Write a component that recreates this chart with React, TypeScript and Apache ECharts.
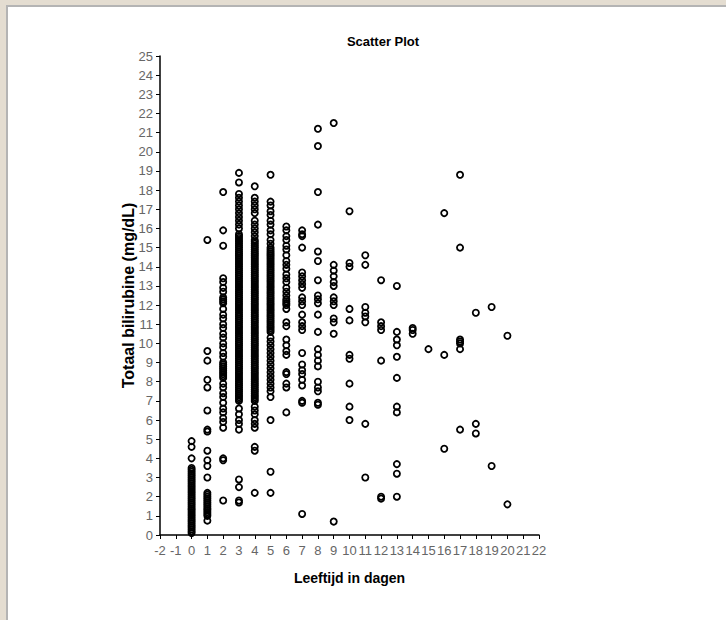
import React, { useEffect, useRef } from "react";
import * as echarts from "echarts";

// Leeftijd in dagen (x) -> Totaal bilirubine mg/dL (y), one array per day
const day0 = [4.9, 4.6, 4.0, 3.5, 3.4, 3.3, 3.2, 3.1, 3.0, 2.9, 2.8, 2.7, 2.6, 2.5, 2.4, 2.3, 2.2, 2.1, 2.0, 1.9, 1.8, 1.7, 1.6, 1.5, 1.4, 1.3, 1.2, 1.1, 1.0, 0.9, 0.8, 0.7, 0.6, 0.5, 0.4, 0.3, 0.2, 0.1];
const day1 = [15.4, 9.6, 9.1, 8.1, 7.7, 6.5, 5.5, 5.4, 4.4, 3.9, 3.6, 3.0, 2.2, 2.1, 2.0, 1.9, 1.8, 1.7, 1.6, 1.5, 1.4, 1.3, 1.2, 1.1, 1.0, 0.75];
const day2 = [17.9, 15.9, 15.1, 13.4, 13.2, 12.9, 12.7, 12.4, 12.3, 12.2, 12.1, 11.8, 11.5, 11.3, 11.0, 10.8, 10.5, 10.3, 10.0, 9.8, 9.5, 9.3, 9.0, 8.9, 8.8, 8.7, 8.6, 8.5, 8.4, 8.3, 8.2, 7.9, 7.7, 7.4, 7.2, 6.9, 6.6, 6.4, 6.1, 5.9, 5.6, 4.0, 3.9, 1.8];
const day3 = [18.9, 18.4, 17.8, 17.6, 17.4, 17.2, 17.0, 16.8, 16.6, 16.4, 16.2, 16.0,
  15.7, 15.6, 15.5, 15.4, 15.3, 15.2, 15.1, 15.0, 14.9, 14.8, 14.7, 14.6, 14.5, 14.4, 14.3, 14.2, 14.1, 14.0,
  13.9, 13.8, 13.7, 13.6, 13.5, 13.4, 13.3, 13.2, 13.1, 13.0, 12.9, 12.8, 12.7, 12.6, 12.5, 12.4, 12.3, 12.2, 12.1, 12.0,
  11.9, 11.8, 11.7, 11.6, 11.5, 11.4, 11.3, 11.2, 11.1, 11.0, 10.9, 10.8, 10.7, 10.6, 10.5, 10.4, 10.3, 10.2, 10.1, 10.0,
  9.9, 9.8, 9.7, 9.6, 9.5, 9.4, 9.3, 9.2, 9.1, 9.0, 8.9, 8.8, 8.7, 8.6, 8.5, 8.4, 8.3, 8.2, 8.1, 8.0,
  7.9, 7.8, 7.7, 7.6, 7.5, 7.4, 7.3, 7.2, 7.1, 7.0,
  6.6, 6.3, 6.0, 5.8, 5.5, 2.9, 2.5, 1.8, 1.7];
const day4 = [18.2, 17.6, 17.4, 17.2, 17.0, 16.8, 16.4, 16.2, 16.0, 15.8, 15.6,
  15.4, 15.3, 15.2, 15.1, 15.0, 14.9, 14.8, 14.7, 14.6, 14.5, 14.4, 14.3, 14.2, 14.1, 14.0,
  13.9, 13.8, 13.7, 13.6, 13.5, 13.4, 13.3, 13.2, 13.1, 13.0, 12.9, 12.8, 12.7, 12.6, 12.5, 12.4, 12.3, 12.2, 12.1, 12.0,
  11.9, 11.8, 11.7, 11.6, 11.5, 11.4, 11.3, 11.2, 11.1, 11.0, 10.9, 10.8, 10.7, 10.6, 10.5, 10.4, 10.3, 10.2, 10.1, 10.0,
  9.9, 9.8, 9.7, 9.6, 9.5, 9.4, 9.3, 9.2, 9.1, 9.0, 8.9, 8.8, 8.7, 8.6, 8.5, 8.4, 8.3, 8.2, 8.1, 8.0,
  7.9, 7.8, 7.7, 7.6, 7.5, 7.4, 7.3, 7.2, 7.1, 7.0,
  6.7, 6.5, 6.3, 6.0, 5.8, 5.6, 4.6, 4.4, 2.2];
const day5 = [18.8, 17.4, 17.2, 16.9, 16.7, 16.4, 16.2, 15.9, 15.7, 15.4, 15.2,
  15.0, 14.9, 14.8, 14.7, 14.6, 14.5, 14.4, 14.3, 14.2, 14.1, 14.0, 13.9, 13.8, 13.7, 13.6, 13.5, 13.4, 13.3, 13.2, 13.1, 13.0,
  12.9, 12.8, 12.7, 12.6, 12.5, 12.4, 12.3, 12.2, 12.1, 12.0, 11.9, 11.8, 11.7, 11.6, 11.5, 11.4, 11.3, 11.2, 11.1, 11.0, 10.9, 10.8, 10.7, 10.6,
  10.3, 10.1, 9.9, 9.7, 9.5, 9.3, 9.1, 8.9, 8.7, 8.5, 8.3, 8.1, 7.9, 7.7, 7.5, 7.2, 6.0, 3.3, 2.2];
const day6 = [16.1, 15.9, 15.6, 15.4, 15.1, 14.9, 14.6, 14.3, 14.1, 13.9, 13.6, 13.4, 13.2, 12.9, 12.7, 12.5, 12.3, 12.2, 12.1, 12.0, 11.8, 11.1, 10.9, 10.2, 9.9, 9.6, 9.4, 8.5, 8.4, 7.9, 7.7, 6.4];
const day7 = [15.9, 15.7, 15.6, 15.0, 13.7, 13.5, 13.3, 13.1, 12.9, 12.4, 12.2, 12.0, 11.5, 11.1, 10.9, 10.7, 9.5, 8.9, 8.6, 8.4, 8.1, 7.8, 7.0, 6.9, 1.1];
const day8 = [21.2, 20.3, 17.9, 16.2, 14.8, 14.3, 13.3, 12.5, 12.3, 12.1, 11.5, 10.6, 9.7, 9.4, 9.1, 8.8, 8.0, 7.7, 7.5, 6.9, 6.8];
const day9 = [21.5, 14.1, 13.8, 13.5, 13.2, 13.0, 12.4, 12.2, 12.0, 11.3, 11.1, 10.5, 0.7];
const day10 = [16.9, 14.2, 14.0, 11.8, 11.2, 9.4, 9.2, 7.9, 6.7, 6.0];
const day11 = [14.6, 14.1, 11.9, 11.6, 11.4, 11.1, 5.8, 3.0];
const day12 = [13.3, 11.1, 10.9, 10.7, 9.1, 2.0, 1.9];
const day13 = [13.0, 10.6, 10.2, 9.9, 9.3, 8.2, 6.7, 6.4, 3.7, 3.2, 2.0];
const day14 = [10.8, 10.7, 10.5];
const day15 = [9.7];
const day16 = [16.8, 9.4, 4.5];
const day17 = [18.8, 15.0, 10.2, 10.1, 10.0, 9.7, 5.5];
const day18 = [11.6, 5.8, 5.3];
const day19 = [11.9, 3.6];
const day20 = [10.4, 1.6];

const days = [0, 1, 2, 3, 4, 5, 6, 7, 8, 9, 10, 11, 12, 13, 14, 15, 16, 17, 18, 19, 20];
const valuesByDay = [day0, day1, day2, day3, day4, day5, day6, day7, day8, day9, day10, day11, day12, day13, day14, day15, day16, day17, day18, day19, day20];

const titleText = "Scatter Plot";
const xName = "Leeftijd in dagen";
const yName = "Totaal bilirubine (mg/dL)";

const NARROW = "'Liberation Sans Narrow', 'Arial Narrow', 'Liberation Sans', Arial, sans-serif";

export default function App() {
  const ref = useRef<HTMLDivElement>(null);
  useEffect(() => {
    if (!ref.current) return;
    const chart = echarts.init(ref.current, undefined, { renderer: "svg" });
    const data: number[][] = [];
    days.forEach((d, i) => valuesByDay[i].forEach((v) => data.push([d, v])));
    chart.setOption({
      animation: false,
      title: {
        text: titleText,
        left: 378,
        top: 30,
        textAlign: "center",
        textStyle: { fontFamily: NARROW, fontWeight: "bold", fontSize: 13, color: "#000" },
      },
      grid: { left: 160, right: 187, top: 56, bottom: 85 },
      xAxis: {
        type: "value",
        min: -2,
        max: 22,
        interval: 1,
        name: xName,
        nameLocation: "middle",
        nameGap: 36,
        nameMoveOverlap: false,
        nameTextStyle: { fontFamily: NARROW, fontWeight: "bold", fontSize: 14, color: "#000" },
        axisLine: { onZero: false, lineStyle: { color: "#000", width: 1.5 } },
        axisTick: { show: true, length: 4, lineStyle: { color: "#000", width: 1 } },
        axisLabel: { fontFamily: NARROW, fontSize: 13, color: "#666", margin: 9 },
        splitLine: { show: false },
      },
      yAxis: {
        type: "value",
        min: 0,
        max: 25,
        interval: 1,
        name: yName,
        nameLocation: "middle",
        nameGap: 24,
        nameRotate: 90,
        nameMoveOverlap: false,
        nameTextStyle: { fontFamily: NARROW, fontWeight: "bold", fontSize: 16, color: "#000" },
        axisLine: { show: true, onZero: false, lineStyle: { color: "#000", width: 1.5 } },
        axisTick: { show: true, length: 4, lineStyle: { color: "#000", width: 1 } },
        axisLabel: { fontFamily: NARROW, fontSize: 13, color: "#666", margin: 7 },
        splitLine: { show: false },
      },
      series: [
        {
          type: "scatter",
          data,
          symbol: "circle",
          symbolSize: 6.2,
          itemStyle: { color: "rgba(0,0,0,0)", borderColor: "#000", borderWidth: 1.8, opacity: 1 },
          emphasis: { disabled: true },
        },
      ],
    });
    return () => chart.dispose();
  }, []);

  return (
    <div style={{ position: "fixed", left: 0, top: 0, width: 726, height: 620, background: "#e4ddd1", overflow: "hidden" }}>
      <div
        style={{
          position: "absolute",
          left: 6,
          top: 5,
          right: 0,
          bottom: 0,
          background: "#fff",
          borderLeft: "2px solid #b4b4b4",
          borderTop: "2px solid #b4b4b4",
        }}
      />
      <div ref={ref} style={{ position: "absolute", left: 0, top: 0, width: 726, height: 620 }} />
    </div>
  );
}
